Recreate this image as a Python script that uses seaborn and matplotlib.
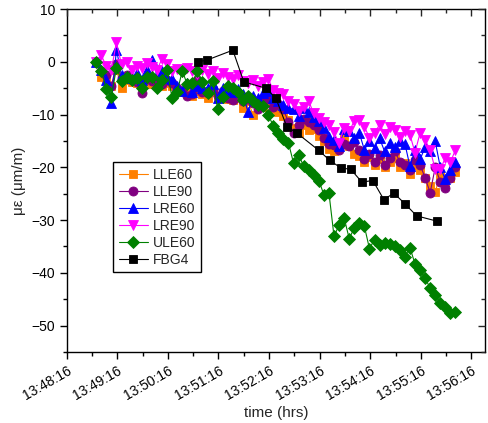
import pandas as pd
import matplotlib
matplotlib.use("Agg")
import matplotlib.pyplot as plt
import matplotlib.dates as mdates
import seaborn as sns

# Strain gauges: one reading every 6 s starting at 13:48:51
t_start = "2000-01-01 13:48:51"
n_samples = 72
step_s = 6

lle60 = [0, -2.8, -3.0, -4.5, -1.5, -4.9, -3.5, -3.8, -4.0, -4.5,
         -3.8, -4.2, -3.5, -4.5, -4.0, -4.5, -5.5, -5.8, -5.0, -6.5,
         -5.5, -6.2, -6.8, -5.8, -6.9, -6.2, -7.0, -7.2, -6.8, -8.7,
         -7.5, -10.0, -8.0, -8.5, -7.5, -9.0, -9.5, -10.2, -11.0, -12.5,
         -13.5, -12.0, -13.0, -12.8, -14.0, -15.1, -16.5, -17.0, -15.5, -14.4,
         -16.0, -17.5, -17.8, -19.0, -18.0, -19.5, -18.5, -20.0, -19.0, -18.2,
         -20.0, -19.2, -21.2, -19.5, -20.5, -22.0, -23.5, -24.6, -21.5, -22.7,
         -22.0, -20.8]

lle90 = [0, -1.8, -2.5, -4.5, -0.5, -3.0, -2.5, -3.4, -3.8, -5.9,
         -3.2, -3.7, -3.0, -4.2, -3.5, -4.0, -5.0, -5.5, -6.5, -6.2,
         -3.4, -5.8, -6.0, -5.2, -6.5, -5.5, -6.8, -7.2, -6.0, -7.5,
         -7.0, -7.8, -9.0, -7.5, -7.0, -8.5, -8.0, -9.0, -11.5, -13.5,
         -12.0, -10.8, -11.5, -11.9, -13.0, -14.4, -15.5, -15.8, -16.7, -15.5,
         -16.0, -15.2, -16.7, -18.4, -17.5, -18.9, -17.6, -19.5, -18.2, -17.0,
         -18.9, -19.5, -20.5, -18.7, -19.5, -22.0, -24.8, -20.0, -22.7, -23.9,
         -22.0, -20.0]

lre60 = [0, -1.5, -3.5, -7.8, 2.3, -2.5, -2.8, -3.0, -2.2, -3.5,
         -1.5, 0.4, -2.5, -1.8, -3.0, -3.2, -4.5, -5.5, -4.0, -5.7,
         -4.5, -5.0, -4.9, -4.2, -6.8, -5.0, -5.5, -5.7, -5.2, -6.2,
         -9.5, -6.5, -6.8, -5.9, -5.5, -6.8, -7.5, -8.2, -8.8, -9.0,
         -10.2, -8.7, -9.5, -10.5, -11.3, -12.5, -14.2, -14.8, -16.0, -12.8,
         -13.2, -14.4, -13.5, -16.7, -15.0, -16.3, -14.5, -17.0, -15.3, -16.2,
         -15.1, -15.5, -19.8, -16.8, -18.5, -16.2, -17.0, -15.1, -20.0, -22.3,
         -20.5, -18.9]

lre90 = [0, 1.2, -0.8, -1.5, 3.7, -0.5, 0.0, -1.5, -0.8, -1.1,
         -0.3, -0.9, -1.6, 0.6, -0.5, -1.8, -1.4, -2.0, -1.2, -1.8,
         -2.4, -1.5, -2.4, -1.8, -3.0, -2.2, -2.8, -3.2, -2.5, -3.6,
         -4.0, -3.4, -4.5, -3.8, -3.2, -5.4, -5.9, -6.2, -7.5, -8.0,
         -9.4, -8.6, -7.5, -9.8, -10.6, -11.5, -12.0, -13.4, -15.4, -12.5,
         -13.2, -11.2, -11.0, -12.3, -14.4, -13.5, -11.9, -13.6, -12.3, -13.0,
         -14.2, -13.2, -13.8, -17.2, -13.5, -14.8, -16.7, -20.4, -20.4, -18.2,
         -19.0, -16.7]

ule60 = [0, -1.7, -5.1, -6.6, -1.1, -3.6, -2.8, -3.4, -3.0, -4.9,
         -2.8, -2.9, -4.9, -3.5, -1.5, -6.9, -5.8, -1.7, -4.3, -4.0,
         -1.7, -3.9, -6.0, -3.6, -8.9, -6.6, -4.5, -5.0, -5.8, -7.2,
         -6.5, -7.5, -8.1, -8.4, -10.0, -12.2, -13.5, -14.7, -15.4, -19.2,
         -17.6, -19.8, -20.6, -21.4, -22.5, -25.2, -24.9, -33.1, -30.9, -29.6,
         -33.5, -31.5, -30.5, -31.2, -35.4, -33.7, -34.7, -34.3, -34.5, -35.0,
         -35.6, -36.9, -35.2, -38.3, -39.5, -41.0, -42.9, -44.2, -45.7, -46.4,
         -47.7, -47.5]

# Fibre Bragg grating, logged at its own instants
fbg4_times = ["13:50:52", "13:51:02", "13:51:33", "13:51:46", "13:52:12",
              "13:52:24", "13:52:37", "13:52:49", "13:53:15", "13:53:28",
              "13:53:41", "13:53:53", "13:54:06", "13:54:19", "13:54:32",
              "13:54:44", "13:54:57", "13:55:11", "13:55:35"]
fbg4 = [0.0, 0.3, 2.2, -3.8, -5.0, -6.9, -12.3, -13.5, -16.8, -18.7,
        -20.1, -20.4, -22.8, -22.5, -26.1, -24.9, -26.9, -29.2, -30.2]

series_names = ["LLE60", "LLE90", "LRE60", "LRE90", "ULE60"]
series_values = [lle60, lle90, lre60, lre90, ule60]
colors = {"LLE60": "#FF8000", "LLE90": "#800080", "LRE60": "#0000FF",
          "LRE90": "#FF00FF", "ULE60": "#008000", "FBG4": "#000000"}
markers = {"LLE60": "s", "LLE90": "o", "LRE60": "^", "LRE90": "v",
           "ULE60": "D", "FBG4": "s"}
msizes = {"LLE60": 6.0, "LLE90": 6.5, "LRE60": 6.8, "LRE90": 6.8,
          "ULE60": 5.8, "FBG4": 5.8}

times = pd.date_range(t_start, periods=n_samples, freq=f"{step_s}s")
frames = [pd.DataFrame({"time": times, "strain": v, "sensor": n})
          for n, v in zip(series_names, series_values)]
frames.append(pd.DataFrame({"time": pd.to_datetime(["2000-01-01 " + t for t in fbg4_times]),
                            "strain": fbg4, "sensor": "FBG4"}))
df = pd.concat(frames, ignore_index=True)

sns.set_style("ticks")
plt.rcParams["font.family"] = ["Liberation Sans", "DejaVu Sans"]
plt.rcParams["font.size"] = 10

fig = plt.figure(figsize=(4.89, 4.23), dpi=100)
ax = fig.add_axes([0.1364, 0.1678, 0.8554, 0.8109])

for name in series_names + ["FBG4"]:
    sub = df[df["sensor"] == name]
    sns.lineplot(data=sub, x="time", y="strain", ax=ax, color=colors[name],
                 marker=markers[name], markersize=msizes[name],
                 markeredgecolor=colors[name], markeredgewidth=0.6,
                 linewidth=0.8, label=name, sort=False, estimator=None)

ax.set_xlim(pd.Timestamp("2000-01-01 13:48:16"), pd.Timestamp("2000-01-01 13:56:32"))
ax.set_ylim(-55, 10)
ax.xaxis.set_major_locator(mdates.SecondLocator(bysecond=[16]))
ax.xaxis.set_minor_locator(mdates.SecondLocator(bysecond=[46]))
ax.xaxis.set_major_formatter(mdates.DateFormatter("%H:%M:%S"))
ax.set_yticks([-50, -40, -30, -20, -10, 0, 10])
ax.set_yticks([-55, -45, -35, -25, -15, -5, 5], minor=True)

for s in ax.spines.values():
    s.set_visible(True)
    s.set_linewidth(1.0)
    s.set_color("black")

ax.tick_params(which="both", direction="out", top=False, right=False,
               colors="black", labelsize=10, width=1.0)
ax.tick_params(which="major", length=5)
ax.tick_params(which="minor", length=3)
for lab in ax.get_xticklabels():
    lab.set_rotation(30)
    lab.set_ha("right")
    lab.set_rotation_mode("anchor")

# inward mirror ticks on top and right
ax2 = fig.add_axes(ax.get_position(), frameon=False, sharex=ax, sharey=ax)
ax2.tick_params(which="both", direction="in", bottom=False, left=False,
                top=True, right=True, labelbottom=False, labelleft=False,
                width=1.0)
ax2.tick_params(which="major", length=5)
ax2.tick_params(which="minor", length=3)
ax2.patch.set_visible(False)

ax.set_xlabel("time (hrs)", fontsize=11, labelpad=2)
ax.set_ylabel("με (μm/m)", fontsize=11, labelpad=4)

leg = ax.legend(loc="upper left", bbox_to_anchor=(0.111, 0.554),
                borderaxespad=0, frameon=True, fancybox=False,
                edgecolor="black", framealpha=1, fontsize=10,
                handlelength=2.1, handletextpad=0.35, labelspacing=0.22,
                borderpad=0.4)
leg.get_frame().set_linewidth(1.0)

fig.savefig("out.png", dpi=100)
